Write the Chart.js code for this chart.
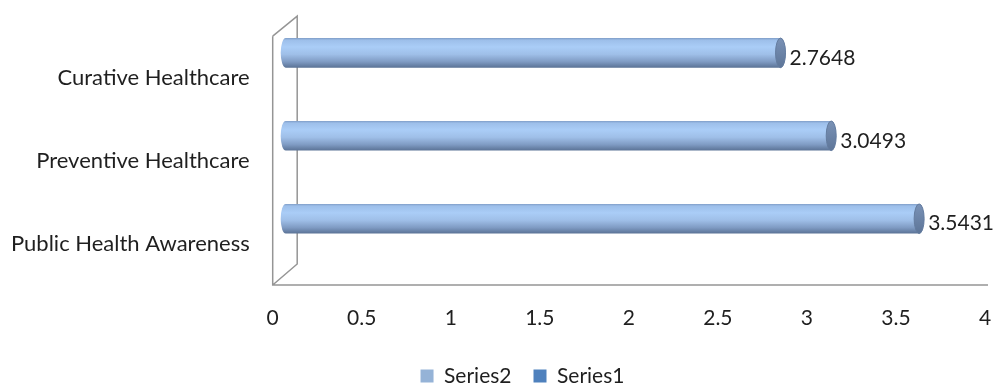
<!DOCTYPE html>
<html>
<head>
<meta charset="utf-8">
<script src="https://cdn.jsdelivr.net/npm/chart.js@4.4.1/dist/chart.umd.min.js"></script>
<style>
    html, body { margin: 0; padding: 0; background: #fff; }
    #wrap { width: 995px; height: 387px; }
</style>
</head>
<body>
<div id="wrap"><canvas id="chart"></canvas></div>
<script>
// Chart values
const categories = ['Curative Healthcare', 'Preventive Healthcare', 'Public Health Awareness'];
const series2Values = [2.7648, 3.0493, 3.5431];
const series1Values = [0, 0, 0];
const seriesNames = ['Series2', 'Series1'];
const seriesColors = ['#95b3d7', '#4f81bd'];
const xTickLabels = ['0', '0.5', '1', '1.5', '2', '2.5', '3', '3.5', '4'];

// 3D look: depth of the wall and where the bar row sits inside it
const WALL_DX = 24.5, WALL_DY = -20;
const BAR_DY = -10, BAR_SHIFT_START = 13, BAR_SHIFT_END = 15.5;
const CAP_RX = 5;
const LEGEND_SHIFT = 60; // legend sits a bit right of the page centre

const wallsAndCylinders = {
    id: 'wallsAndCylinders',
    afterLayout(chart) {
        chart.legend.left += LEGEND_SHIFT;
    },
    beforeDatasetsDraw(chart) {
        const { ctx, chartArea } = chart;
        const left = chart.scales.x.getPixelForValue(0);
        const top = chartArea.top, bottom = chartArea.bottom;
        ctx.save();
        ctx.strokeStyle = '#959595';
        ctx.lineWidth = 1.5;
        ctx.beginPath();
        ctx.moveTo(left, top);
        ctx.lineTo(left, bottom);
        ctx.lineTo(chartArea.right + 3, bottom);
        ctx.moveTo(left, top);
        ctx.lineTo(left + WALL_DX, top + WALL_DY);
        ctx.lineTo(left + WALL_DX, bottom + WALL_DY - 1);
        ctx.lineTo(left, bottom);
        ctx.stroke();
        ctx.restore();
    },
    beforeDatasetDraw() {
        return false; // bars are drawn as cylinders below
    },
    afterDatasetsDraw(chart) {
        const ctx = chart.ctx;
        ctx.save();
        chart.data.datasets.forEach((ds, i) => {
            const meta = chart.getDatasetMeta(i);
            meta.data.forEach((bar, j) => {
                const v = ds.data[j];
                if (!v) return;
                const p = bar.getProps(['x', 'y', 'base', 'height'], true);
                const x0 = p.base + BAR_SHIFT_START;
                const x1 = p.x + BAR_SHIFT_END;
                const cy = p.y + BAR_DY;
                const ry = p.height / 2;
                const top = cy - ry;

                const g = ctx.createLinearGradient(0, top, 0, top + p.height);
                g.addColorStop(0, '#7f9dc7');
                g.addColorStop(0.07, '#9dbfea');
                g.addColorStop(0.3, '#aacdf7');
                g.addColorStop(0.55, '#9fbfe8');
                g.addColorStop(0.8, '#7f9bc3');
                g.addColorStop(1, '#5a7295');

                ctx.fillStyle = g;
                ctx.beginPath();
                ctx.ellipse(x0, cy, CAP_RX, ry, 0, Math.PI / 2, Math.PI * 1.5);
                ctx.lineTo(x1, top);
                ctx.ellipse(x1, cy, CAP_RX, ry, 0, -Math.PI / 2, Math.PI / 2);
                ctx.closePath();
                ctx.fill();

                const cg = ctx.createLinearGradient(0, top, 0, top + p.height);
                cg.addColorStop(0, '#7a92b6');
                cg.addColorStop(1, '#5d7598');
                ctx.fillStyle = cg;
                ctx.strokeStyle = '#647c9f';
                ctx.lineWidth = 1;
                ctx.beginPath();
                ctx.ellipse(x1, cy, CAP_RX, ry, 0, 0, Math.PI * 2);
                ctx.fill();
                ctx.stroke();

                ctx.fillStyle = '#1f1f1f';
                ctx.font = '21px Lato';
                ctx.textAlign = 'left';
                ctx.textBaseline = 'middle';
                ctx.fillText(String(v), x1 + CAP_RX + 4, cy + 5);
            });
        });
        ctx.restore();
    }
};

Chart.defaults.font.family = 'Lato';
Chart.defaults.font.size = 21;
Chart.defaults.color = '#1f1f1f';

new Chart(document.getElementById('chart'), {
    type: 'bar',
    data: {
        labels: categories,
        datasets: [
            { label: seriesNames[0], data: series2Values, backgroundColor: seriesColors[0] },
            { label: seriesNames[1], data: series1Values, backgroundColor: seriesColors[1] }
        ]
    },
    options: {
        indexAxis: 'y',
        responsive: true,
        maintainAspectRatio: false,
        animation: false,
        categoryPercentage: 0.714,
        barPercentage: 1,
        layout: { padding: { top: 33, right: 10, left: 0, bottom: -9.5 } },
        plugins: {
            legend: {
                position: 'bottom',
                labels: { boxWidth: 13, boxHeight: 13, padding: 22 }
            },
            tooltip: { enabled: false }
        },
        scales: {
            x: {
                min: 0,
                max: 4,
                ticks: {
                    stepSize: 0.5,
                    padding: 21,
                    maxRotation: 0,
                    autoSkip: false,
                    callback: (value, index) => xTickLabels[index]
                },
                grid: { display: false, drawTicks: false },
                border: { display: false },
                afterFit: s => { s.height = 58.5; s.paddingLeft = 0; s.paddingRight = 0; }
            },
            y: {
                ticks: { padding: 23, font: { size: 22 } },
                grid: { display: false, drawTicks: false },
                border: { display: false },
                afterFit: s => { s.width = 272.7; }
            }
        }
    },
    plugins: [wallsAndCylinders]
});
</script>
</body>
</html>
